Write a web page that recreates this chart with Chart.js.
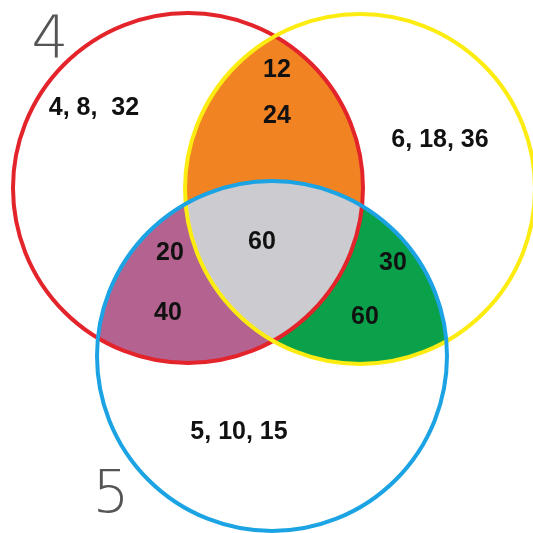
<!DOCTYPE html>
<html>
<head>
<meta charset="utf-8">
<script src="https://cdn.jsdelivr.net/npm/chart.js@4"></script>
<style>
  html, body { margin: 0; padding: 0; background: #fff; }
  #wrap { width: 533px; height: 533px; }
</style>
</head>
<body>
<div id="wrap"><canvas id="venn"></canvas></div>
<script>
// Conjuntos (centro x, centro y, radio) en unidades del diagrama
const setNames = ['A', 'B', 'C'];
const setCenterX = [188, 360, 272];
const setCenterY = [188, 189, 356];
const setRadius = [175, 175, 175];

// Textos de cada zona
const zoneTexts = ['4, 8,  32', '12', '24', '6, 18, 36', '20', '40', '60', '30', '60', '5, 10, 15'];
const zoneX = [94, 277, 277, 440, 170, 168, 262, 393, 365, 239];
const zoneY = [108, 70, 116, 140, 253, 313, 242, 263, 317, 432];

// Rótulos de los conjuntos
const setLabels = ['4', '5'];
const setLabelX = [50, 111];
const setLabelY = [42, 497];

const strokeColors = ['#e3242b', '#fcec12', '#1ca3e3'];
const pairColors = { AB: '#f28322', AC: '#b4628f', BC: '#0aa14a' };
const centerColor = '#cbcbd0';

function circlePath(ctx, chart, i) {
    const sx = chart.scales.x, sy = chart.scales.y;
    const px = sx.getPixelForValue(setCenterX[i]);
    const py = sy.getPixelForValue(setCenterY[i]);
    const r = Math.abs(sx.getPixelForValue(setCenterX[i] + setRadius[i]) - px);
    ctx.beginPath();
    ctx.arc(px, py, r, 0, Math.PI * 2);
}

function fillIntersection(ctx, chart, ids, color) {
    ctx.save();
    ids.forEach(i => { circlePath(ctx, chart, i); ctx.clip(); });
    ctx.fillStyle = color;
    ctx.fillRect(0, 0, chart.width, chart.height);
    ctx.restore();
}

const vennPlugin = {
    id: 'venn',
    beforeDatasetsDraw(chart) {
        const ctx = chart.ctx;
        fillIntersection(ctx, chart, [0, 1], pairColors.AB);
        fillIntersection(ctx, chart, [0, 2], pairColors.AC);
        fillIntersection(ctx, chart, [1, 2], pairColors.BC);
        fillIntersection(ctx, chart, [0, 1, 2], centerColor);
        setNames.forEach((n, i) => {
            ctx.save();
            circlePath(ctx, chart, i);
            ctx.lineWidth = 4;
            ctx.strokeStyle = strokeColors[i];
            ctx.stroke();
            ctx.restore();
        });
    },
    afterDatasetsDraw(chart) {
        const ctx = chart.ctx;
        chart.data.datasets.forEach((ds, di) => {
            const meta = chart.getDatasetMeta(di);
            meta.data.forEach((pt, j) => {
                ctx.save();
                ctx.font = ds.textFont;
                ctx.fillStyle = ds.textColor;
                ctx.textAlign = 'center';
                ctx.textBaseline = 'middle';
                ctx.fillText(ds.texts[j], pt.x, pt.y);
                ctx.restore();
            });
        });
    }
};

new Chart(document.getElementById('venn'), {
    type: 'scatter',
    data: {
        datasets: [{
            data: zoneX.map((x, i) => ({ x: x, y: zoneY[i] })),
            texts: zoneTexts,
            textFont: 'bold 25px "Liberation Sans", Arial, sans-serif',
            textColor: '#111',
            pointRadius: 0
        }, {
            data: setLabelX.map((x, i) => ({ x: x, y: setLabelY[i] })),
            texts: setLabels,
            textFont: '200 58px "DejaVu Sans", "Open Sans", sans-serif',
            textColor: '#555',
            pointRadius: 0
        }]
    },
    options: {
        responsive: true,
        maintainAspectRatio: false,
        animation: false,
        layout: { padding: 0 },
        plugins: { legend: { display: false }, tooltip: { enabled: false } },
        scales: {
            x: { type: 'linear', min: 0, max: 533, display: false },
            y: { type: 'linear', min: 0, max: 533, reverse: true, display: false }
        }
    },
    plugins: [vennPlugin]
});
</script>
</body>
</html>
